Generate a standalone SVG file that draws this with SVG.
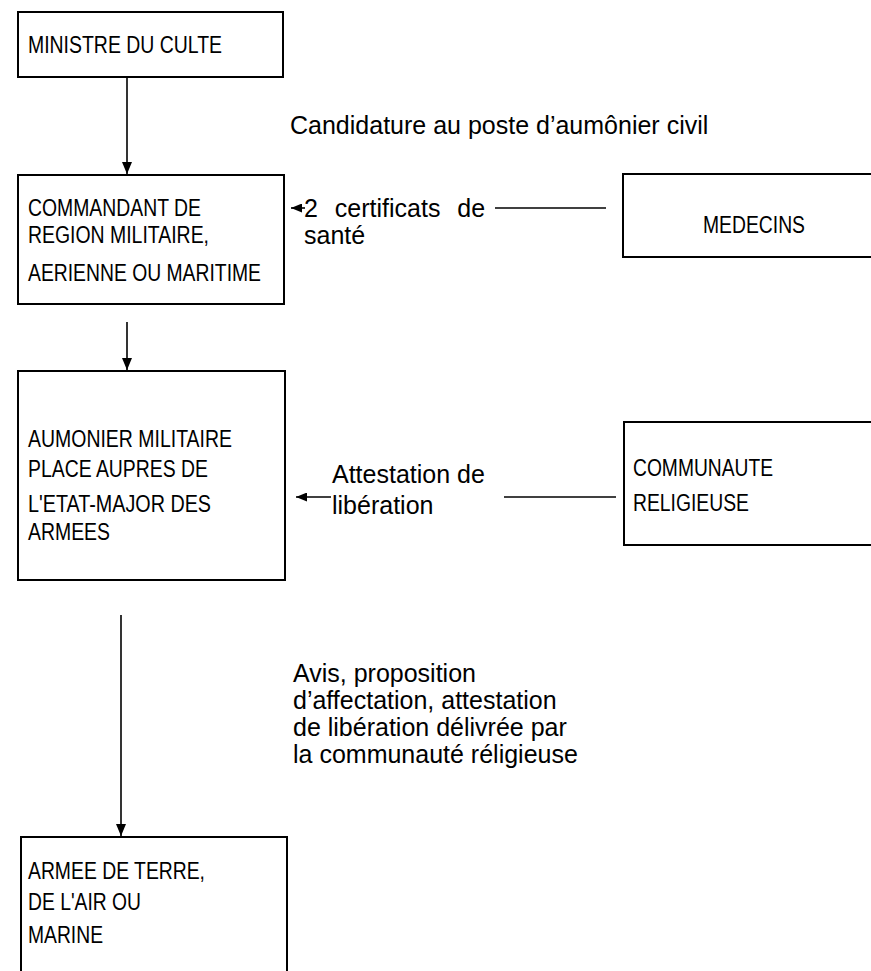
<svg xmlns="http://www.w3.org/2000/svg" width="871" height="971" viewBox="0 0 871 971">
<defs>
<marker id="ah" viewBox="0 0 12 10" refX="12" refY="5" markerWidth="12" markerHeight="10" markerUnits="userSpaceOnUse" orient="auto">
<path d="M0,0 L12,5 L0,10 Z" fill="#000"/>
</marker>
<marker id="ahs" viewBox="0 0 11 9" refX="11" refY="4.5" markerWidth="11" markerHeight="9" markerUnits="userSpaceOnUse" orient="auto">
<path d="M0,0 L11,4.5 L0,9 Z" fill="#000"/>
</marker>
<style>
.box{fill:#fff;stroke:#000;stroke-width:2}
.bt{font-family:"Liberation Sans Narrow","Liberation Sans",Arial,sans-serif;font-size:23.5px;fill:#000}
.lb{font-family:"Liberation Sans",Arial,sans-serif;font-size:25px;fill:#000}
.cn{fill:none;stroke:#000;stroke-width:1.6}
</style>
</defs>
<rect width="871" height="971" fill="#fff"/>
<g id="connectors">
<line class="cn" x1="127" y1="77" x2="127" y2="174" marker-end="url(#ah)"/>
<line class="cn" x1="127" y1="322" x2="127" y2="370" marker-end="url(#ah)"/>
<line class="cn" x1="121" y1="615" x2="121" y2="836" marker-end="url(#ah)"/>
<line class="cn" x1="305" y1="208" x2="291" y2="208" marker-end="url(#ahs)"/>
<line class="cn" x1="495" y1="208" x2="606" y2="208"/>
<line class="cn" x1="331" y1="497" x2="296" y2="497" marker-end="url(#ahs)"/>
<line class="cn" x1="504" y1="497" x2="616" y2="497"/>
</g>
<g id="n-ministre">
<rect class="box" x="18" y="12" width="265" height="65"/>
<text class="bt" x="28" y="53" textLength="194" lengthAdjust="spacingAndGlyphs">MINISTRE DU CULTE</text>
</g>
<g id="n-commandant">
<rect class="box" x="18" y="175" width="266" height="129"/>
<text class="bt" x="28" y="216" textLength="173" lengthAdjust="spacingAndGlyphs">COMMANDANT DE</text>
<text class="bt" x="28" y="243" textLength="181" lengthAdjust="spacingAndGlyphs">REGION MILITAIRE,</text>
<text class="bt" x="28" y="281" textLength="233" lengthAdjust="spacingAndGlyphs">AERIENNE OU MARITIME</text>
</g>
<g id="n-medecins">
<rect class="box" x="623" y="174" width="252" height="83"/>
<text class="bt" x="754" y="233" text-anchor="middle" textLength="102" lengthAdjust="spacingAndGlyphs">MEDECINS</text>
</g>
<g id="n-aumonier">
<rect class="box" x="18" y="371" width="267" height="209"/>
<text class="bt" x="28" y="447" textLength="204" lengthAdjust="spacingAndGlyphs">AUMONIER MILITAIRE</text>
<text class="bt" x="28" y="477" textLength="180" lengthAdjust="spacingAndGlyphs">PLACE AUPRES DE</text>
<text class="bt" x="28" y="512" textLength="183" lengthAdjust="spacingAndGlyphs">L'ETAT-MAJOR DES</text>
<text class="bt" x="28" y="540" textLength="82" lengthAdjust="spacingAndGlyphs">ARMEES</text>
</g>
<g id="n-communaute">
<rect class="box" x="624" y="422" width="251" height="123"/>
<text class="bt" x="633" y="476" textLength="140" lengthAdjust="spacingAndGlyphs">COMMUNAUTE</text>
<text class="bt" x="633" y="511" textLength="116" lengthAdjust="spacingAndGlyphs">RELIGIEUSE</text>
</g>
<g id="n-armee">
<rect class="box" x="21" y="837" width="266" height="145"/>
<text class="bt" x="28" y="879" textLength="177" lengthAdjust="spacingAndGlyphs">ARMEE DE TERRE,</text>
<text class="bt" x="28" y="910" textLength="113" lengthAdjust="spacingAndGlyphs">DE L'AIR OU</text>
<text class="bt" x="28" y="943" textLength="75" lengthAdjust="spacingAndGlyphs">MARINE</text>
</g>
<g id="labels">
<text class="lb" x="290" y="134">Candidature au poste d’aumônier civil</text>
<text class="lb" x="304" y="217" word-spacing="10">2 certificats de</text>
<text class="lb" x="304" y="244">santé</text>
<text class="lb" x="332" y="483">Attestation de</text>
<text class="lb" x="332" y="514">libération</text>
<text class="lb" x="293" y="682">Avis, proposition</text>
<text class="lb" x="293" y="709">d’affectation, attestation</text>
<text class="lb" x="293" y="736">de libération délivrée par</text>
<text class="lb" x="293" y="763">la communauté réligieuse</text>
</g>
</svg>
